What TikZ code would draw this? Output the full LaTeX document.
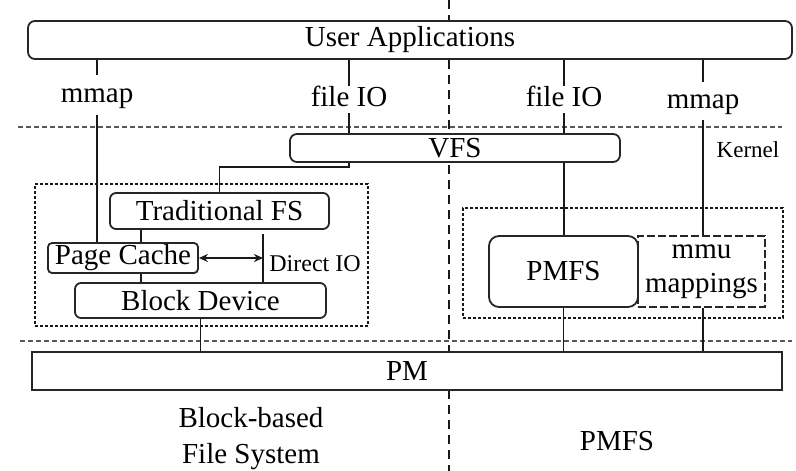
\documentclass[tikz,border=0pt]{standalone}
\usepackage{fontspec}
\setmainfont{Liberation Serif}
\usetikzlibrary{arrows.meta,calc}
\begin{document}
\begin{tikzpicture}[x=1pt,y=-1pt,
  box/.style={draw=black!85, line width=1.8pt, fill=white, rounded corners=7pt, inner sep=0pt, font=\fontsize{29}{34}\selectfont},
  conn/.style={draw=black!90, line width=1.6pt},
  sep/.style={draw=black!65, line width=1.6pt, dash pattern=on 5pt off 3pt},
  vsep/.style={draw=black!90, line width=2pt, dash pattern=on 9pt off 6pt},
  grp/.style={draw=black!90, line width=1.8pt, dash pattern=on 3pt off 2pt, inner sep=0pt},
  lbl/.style={inner sep=0pt, font=\fontsize{29}{34}\selectfont},
  tag/.style={lbl, text height=20pt, text depth=6pt},
  small/.style={inner sep=0pt, font=\fontsize{23}{28}\selectfont}]
\useasboundingbox (0,0) rectangle (796,471);
% separators
\draw[vsep] (449,0) -- (449,471);
\draw[sep] (18,127) -- (782,127);
\draw[sep] (20,341) -- (792,341);
% boxes
\node[box, minimum width=764pt, minimum height=38pt] (ua) at (410,40) {User Applications};
\node[box, minimum width=330pt, minimum height=28pt] (vfs) at (455,148) {VFS};
\node[grp, minimum width=333pt, minimum height=142pt] (lgrp) at (201.5,255) {};
\node[box, rounded corners=6pt, minimum width=219pt, minimum height=36pt] (tfs) at (219.5,211) {Traditional FS};
\node[box, rounded corners=4pt, minimum width=150pt, minimum height=30pt] (pc) at (123,258) {Page Cache};
\node[box, rounded corners=6pt, minimum width=251pt, minimum height=35pt] (bd) at (200.5,300.5) {Block Device};
\node[grp, minimum width=320pt, minimum height=110pt] (rgrp) at (623,263) {};
\node[box, rounded corners=0pt, dash pattern=on 8pt off 3pt, align=center, minimum width=127pt, minimum height=71pt] (mmu) at (701.5,271.5) {mmu\\mappings};
\node[box, rounded corners=10pt, minimum width=149pt, minimum height=71pt] (pmfs) at (563.5,271.5) {PMFS};
\node[box, rounded corners=0pt, minimum width=750pt, minimum height=38pt] (pm) at (407,371) {PM};
% labels
\node[tag, minimum height=40pt] (mmapL) at (97,95) {mmap};
\node[tag, minimum height=27pt] (fioL) at (349,99.5) {file IO};
\node[tag, minimum height=27pt] (fioR) at (564,99.5) {file IO};
\node[tag, minimum height=38pt] (mmapR) at (703,101) {mmap};
\node[small] (kern) at (748,150) {Kernel};
\node[lbl, font=\fontsize{24}{28}\selectfont] (dioL) at (315,264) {Direct IO};
\node[lbl, align=center, font=\fontsize{29}{36}\selectfont] (bbfs) at (251,439) {Block-based\\File System};
\node[lbl] (pmfsL) at (617,441) {PMFS};
% coordinates
\coordinate (tc) at (141,0);
\coordinate (dtop) at (263,234);
\coordinate (bend) at (349,167);
% connectors
\draw[conn] (ua.south -| mmapL) -- (mmapL.north);
\draw[conn] (mmapL.south) -- (pc.north -| mmapL);
\draw[conn] (ua.south -| fioL) -- (fioL.north);
\draw[conn] (fioL.south) -- (vfs.north -| fioL);
\draw[conn] (ua.south -| fioR) -- (fioR.north);
\draw[conn] (fioR.south) -- (vfs.north -| fioR);
\draw[conn] (ua.south -| mmapR) -- (mmapR.north);
\draw[conn] (mmapR.south) -- (mmu.north -| mmapR);
\draw[conn] (vfs.south -| fioR) -- (pmfs.north -| fioR);
\draw[conn] (vfs.south -| fioL) -- (bend) -| (tfs.north);
\draw[conn] (tfs.south -| tc) -- (pc.north -| tc);
\draw[conn] (pc.south -| tc) -- (bd.north -| tc);
\draw[conn] (dtop) -- (bd.north -| dtop);
\draw[conn, {Stealth[length=9pt,width=8pt]}-{Stealth[length=9pt,width=8pt]}] (pc.east) -- (pc.east -| dtop);
\draw[conn] (bd.south) -- (pm.north -| bd.south);
\draw[conn] (pmfs.south) -- (pm.north -| pmfs.south);
\draw[conn] (mmu.south -| mmapR) -- (pm.north -| mmapR);
\end{tikzpicture}
\end{document}
